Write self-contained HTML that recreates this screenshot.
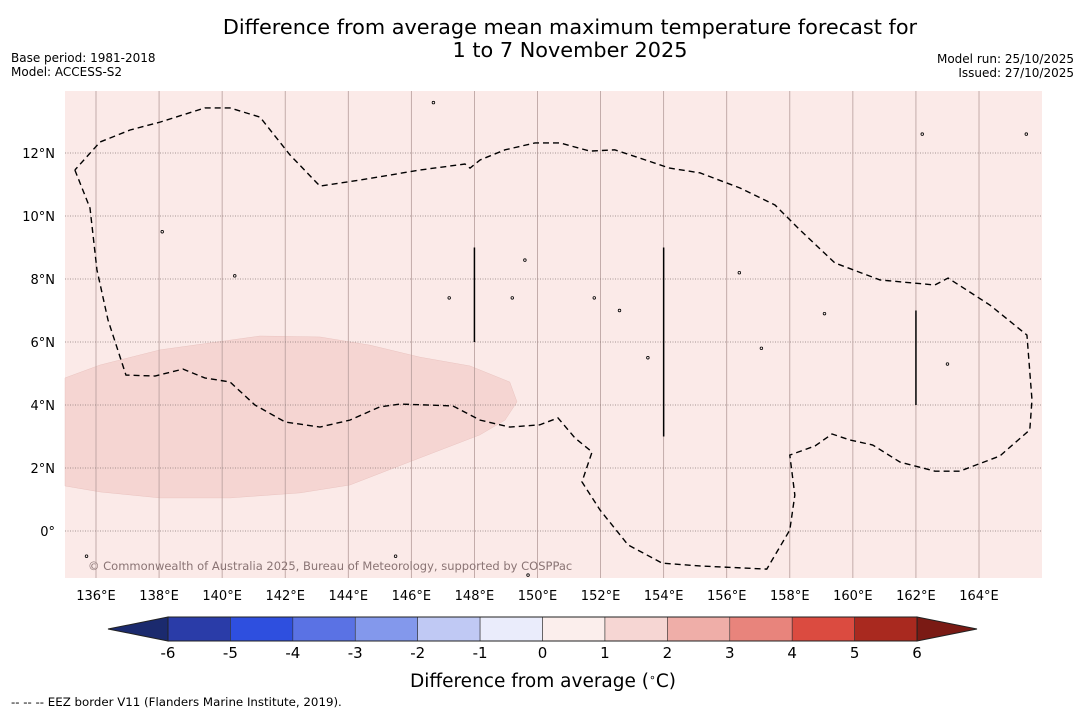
<!DOCTYPE html>
<html><head><meta charset="utf-8"><style>
body{margin:0;background:#fff;font-family:"Liberation Sans","DejaVu Sans",sans-serif;}
svg text{font-family:"DejaVu Sans","Liberation Sans",sans-serif;}
</style></head><body>
<svg id="c" width="1085" height="713" xmlns="http://www.w3.org/2000/svg">
<text x="570" y="34" text-anchor="middle" font-size="20.8">Difference from average mean maximum temperature forecast for</text>
<text x="570" y="57" text-anchor="middle" font-size="20.8">1 to 7 November 2025</text>
<text x="11" y="62" font-size="12">Base period: 1981-2018</text>
<text x="11" y="76" font-size="12">Model: ACCESS-S2</text>
<text x="1074" y="63" font-size="12" text-anchor="end">Model run: 25/10/2025</text>
<text x="1074" y="77" font-size="12" text-anchor="end">Issued: 27/10/2025</text>
<g id="map"></g>
<g id="cbar"></g>
<text x="543" y="687" text-anchor="middle" font-size="18.5">Difference from average (<tspan baseline-shift="super" font-size="11">∘</tspan>C)</text>
<text x="11" y="706" font-size="11.8">--  --  -- EEZ border V11 (Flanders Marine Institute, 2019).</text>
</svg>
<script>
const lonTicks=[136,138,140,142,144,146,148,150,152,154,156,158,160,162,164];
const latTicks=[0,2,4,6,8,10,12];
const eez=[[135.33,11.46],[135.81,10.25],[136.03,8.29],[136.38,6.7],[136.95,4.95],[137.87,4.92],[138.76,5.14],[139.45,4.86],[140.25,4.73],[141.04,4.0],[142.0,3.46],[143.1,3.3],[144.05,3.52],[145.0,3.94],[145.64,4.03],[147.32,3.97],[148.18,3.52],[149.12,3.3],[150.07,3.37],[150.65,3.59],[151.19,2.95],[151.73,2.51],[151.41,1.56],[151.98,0.67],[152.87,-0.44],[153.95,-1.02],[155.15,-1.11],[157.27,-1.21],[158.0,0.03],[158.16,1.14],[158.0,2.41],[158.8,2.7],[159.34,3.08],[159.9,2.89],[160.63,2.73],[161.49,2.19],[162.6,1.9],[163.39,1.9],[164.66,2.38],[165.61,3.21],[165.68,4.16],[165.52,6.22],[164.35,7.17],[163.02,8.03],[162.6,7.81],[160.86,7.97],[159.43,8.51],[158.32,9.56],[157.53,10.35],[156.42,10.89],[155.15,11.37],[154.19,11.52],[153.24,11.84],[152.45,12.1],[151.66,12.06],[150.71,12.32],[149.92,12.32],[148.97,12.1],[148.18,11.78],[147.86,11.52],[147.7,11.65],[146.27,11.46],[144.37,11.14],[143.1,10.95],[142.15,11.94],[141.2,13.14],[140.25,13.43],[139.45,13.43],[138.03,12.98],[137.08,12.73],[136.13,12.35],[135.33,11.46]];
const warmZone=[[135,4.86],[136.13,5.27],[138.03,5.75],[141.2,6.19],[143.1,6.16],[144.69,5.9],[146.27,5.52],[147.86,5.24],[149.12,4.73],[149.35,4.1],[148.97,3.52],[148.17,3.05],[146.27,2.32],[144.05,1.46],[142.47,1.21],[140.25,1.05],[138.03,1.05],[136.13,1.24],[135,1.43]];
const meridianSegs=[[148,6,9],[154,3,9],[162,4,7]];
const islands=[[146.7,13.6],[138.1,9.5],[149.6,8.6],[151.8,7.4],[156.4,8.2],[159.1,6.9],[163.0,5.3],[153.5,5.5],[140.4,8.1],[147.2,7.4],[149.2,7.4],[152.6,7.0],[162.2,12.6],[165.5,12.6],[157.1,5.8],[145.5,-0.8],[149.7,-1.4],[135.7,-0.8]];
const cbTicks=[-6,-5,-4,-3,-2,-1,0,1,2,3,4,5,6];
const cbColors=["#2a3ca8","#2e4fdf","#5a72e4","#8398ec","#c0c9f4","#eaecfb","#fbeeec","#f6d6d3","#efaea8","#e8847c","#db4b40","#a9291f"];
const lowColor="#1b2a6e", highColor="#7a1a14";
const NS="http://www.w3.org/2000/svg";
const X0=65,X1=1042,Y0=91,Y1=578;
const lx=l=>96+(l-136)*31.536;
const ly=a=>531-a*31.5;
function mk(p,t,a){const e=document.createElementNS(NS,t);for(const k in a)e.setAttribute(k,a[k]);p.appendChild(e);return e;}
const map=document.getElementById('map');
let r=mk(map,'rect',{x:X0,y:Y0,width:X1-X0,height:Y1-Y0,fill:'#fbeae8'});


let wz=mk(map,'polygon',{points:warmZone.map(p=>Math.max(X0,lx(p[0]))+','+ly(p[1])).join(' '),fill:'#f5d5d2',stroke:'#e6bdb9','stroke-width':0.4});


lonTicks.forEach(l=>{const x=lx(l);
 let g=mk(map,'line',{x1:x,x2:x,y1:Y0,y2:Y1,stroke:'#b59c9a','stroke-width':0.8});
 
 
 let t=mk(map,'text',{x:x,y:600,'text-anchor':'middle','font-size':13});t.textContent=l+'°E';
 
 
});
latTicks.forEach(a=>{const y=ly(a);
 let g=mk(map,'line',{x1:X0,x2:X1,y1:y,y2:y,stroke:'#8a7a7a','stroke-width':0.8,'stroke-dasharray':'1,1.5'});
 
 
 let t=mk(map,'text',{x:55,y:y+5,'text-anchor':'end','font-size':13});t.textContent=a===0?'0°':a+'°N';
 
 
});
let ep=mk(map,'polyline',{points:eez.map(p=>lx(p[0])+','+ly(p[1])).join(' '),fill:'none',stroke:'#000','stroke-width':1.4,'stroke-dasharray':'6,4'});


meridianSegs.forEach(s=>{let l=mk(map,'line',{x1:lx(s[0]),x2:lx(s[0]),y1:ly(s[2]),y2:ly(s[1]),stroke:'#000','stroke-width':1.5});
 
 });
islands.forEach(p=>{let c=mk(map,'circle',{cx:lx(p[0]),cy:ly(p[1]),r:1.3,fill:'none',stroke:'#000','stroke-width':0.8});
 
 });
let cp=mk(map,'text',{x:88,y:570,'font-size':11.5,fill:'#8a7474'});cp.textContent='© Commonwealth of Australia 2025, Bureau of Meteorology, supported by COSPPac';


const cb=document.getElementById('cbar');
const cx=v=>168+(v+6)*62.42, CY0=617, CY1=641;
let lt=mk(cb,'polygon',{points:`${cx(-6)},${CY0} 108,${(CY0+CY1)/2} ${cx(-6)},${CY1}`,fill:lowColor,stroke:'#222','stroke-width':1});


let rt=mk(cb,'polygon',{points:`${cx(6)},${CY0} 977,${(CY0+CY1)/2} ${cx(6)},${CY1}`,fill:highColor,stroke:'#222','stroke-width':1});


cbColors.forEach((c,i)=>{let b=mk(cb,'rect',{x:cx(cbTicks[i]),y:CY0,width:cx(cbTicks[i+1])-cx(cbTicks[i]),height:CY1-CY0,fill:c,stroke:'#333','stroke-width':0.6});
 
 });
let ob=mk(cb,'rect',{x:cx(-6),y:CY0,width:cx(6)-cx(-6),height:CY1-CY0,fill:'none',stroke:'#222','stroke-width':1});


cbTicks.forEach(v=>{let t=mk(cb,'text',{x:cx(v),y:658,'text-anchor':'middle','font-size':15});t.textContent=v;
 
 });
</script>
</body></html>
